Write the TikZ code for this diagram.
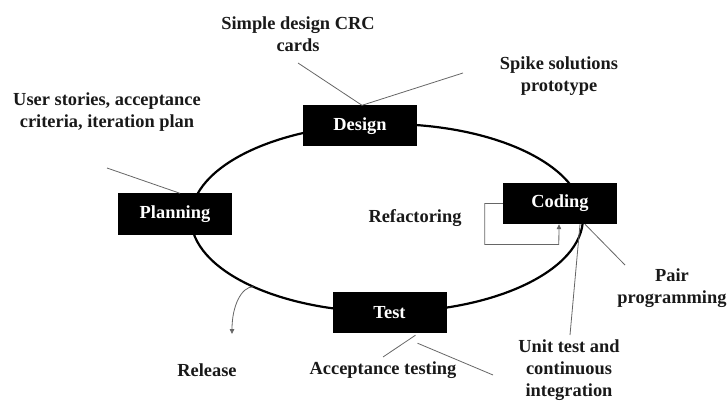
\documentclass[tikz,border=0pt]{standalone}
\usepackage{fontspec}
\setmainfont{Liberation Serif}
\usetikzlibrary{arrows.meta, calc}
\newcommand*\xpfont{\fontsize{18.4pt}{22pt}\selectfont\bfseries}

\begin{document}
\begin{tikzpicture}[
    x=1pt, y=-1pt,
    phase/.style={
      fill=black, text=white, font=\xpfont,
      minimum width=114pt, minimum height=41pt, inner sep=0pt
    },
    note/.style={font=\xpfont, align=center, text=black!90, inner sep=0pt},
    lead/.style={draw=black!60, line width=0.8pt},
    tip/.style={-{Triangle[length=5pt, width=4.5pt]}},
]
    \useasboundingbox (0,0) rectangle (727,403);

    % The cycle
    \coordinate (hub) at (387,218);
    \draw[line width=2.2pt] (hub) ellipse [x radius=196, y radius=94];

    \node[phase] (design)   at (360,126)   {Design};
    \node[phase] (planning) at (175,214)   {Planning};
    \node[phase] (coding)   at (560,203.5) {Coding};
    \node[phase] (test)     at (389.5,312.5) {Test};

    % Practices
    \node[note] (crc)      at (298,34)  {Simple design CRC\\cards};
    \node[note] (spike)    at (559,76)  {Spike solutions\\prototype};
    \node[note] (stories)  at (107,112) {User stories, acceptance\\criteria, iteration plan};
    \node[note] (refactor) at (415,218) {Refactoring};
    \node[note] (pair)     at (672,288) {Pair\\programming};
    \node[note] (unit)     at (569,370) {Unit test and\\continuous\\integration};
    \node[note] (accept)   at (383,370) {Acceptance testing};
    \node[note] (release)  at (207,370) {Release};

    % Leader lines
    \coordinate (crcfoot)   at (298,63);
    \coordinate (spikefoot) at (463,73);
    \coordinate (storyfoot) at (107,168);
    \coordinate (pairfoot)  at (625,265);
    \coordinate (unitfoot)  at (570,335);
    \coordinate (testfoot)  at (383,357);
    \coordinate (strayfoot) at (493,375);

    \draw[lead] ([xshift=2]design.north) -- (crcfoot);
    \draw[lead] ([xshift=2]design.north) -- (spikefoot);
    \draw[lead] ([xshift=5]planning.north) -- (storyfoot);
    \draw[lead] ([xshift=25]coding.south) -- (pairfoot);
    \draw[lead] ([xshift=20]coding.south) -- (unitfoot);
    \draw[lead] ([xshift=26,yshift=-2]test.south) -- (testfoot);
    \draw[lead] ([xshift=28,yshift=-10]test.south) -- (strayfoot);

    % Refactoring loop
    \draw[lead, tip] (coding.west) -- ++(-18,0) |- ++(74,41)
      -- ([xshift=-1]coding.south);

    % Release
    \coordinate (relstart) at ($(hub)+(133:196 and 94)$);
    \coordinate (relend) at (232,334);
    \draw[lead, tip] (relstart) .. controls +(-12,0) and +(0,-28) .. (relend);
\end{tikzpicture}
\end{document}
